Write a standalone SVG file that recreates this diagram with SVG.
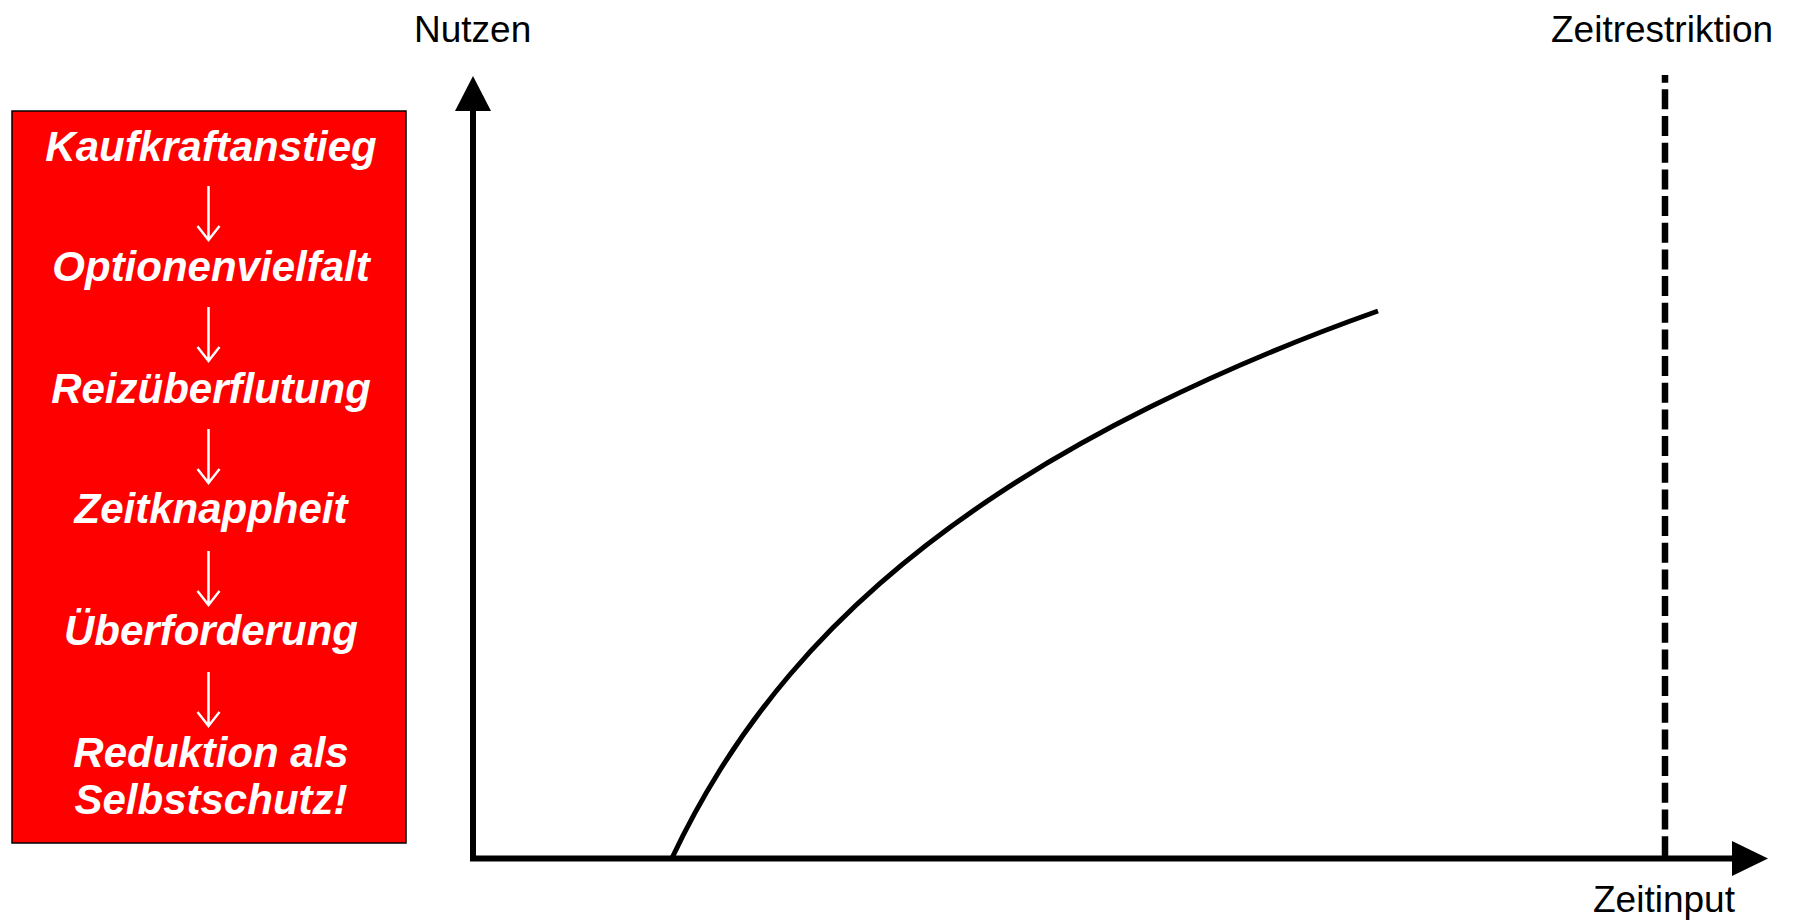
<svg xmlns="http://www.w3.org/2000/svg" width="1794" height="922" viewBox="0 0 1794 922">
<style>
.box{fill:#ff0000;stroke:#000;stroke-width:1.5}
.bt{font-family:"Liberation Sans",Arial,sans-serif;font-weight:bold;font-style:italic;font-size:42px;fill:#fff;text-anchor:middle}
.lbl{font-family:"Liberation Sans",Arial,sans-serif;font-size:37px;fill:#000}
.warr{stroke:#fff;stroke-width:2.5;fill:none}
.axis{stroke:#000;stroke-width:6;fill:none}
</style>
<defs>
<g id="down">
<path class="warr" d="M208.5 0 V54 M197.5 40 L208.5 54 L219.5 40"/>
</g>
</defs>
<rect width="1794" height="922" fill="#fff"/>
<g id="box">
<rect class="box" x="12" y="111" width="394" height="732"/>
<text class="bt" x="211" y="161">Kaufkraftanstieg</text>
<text class="bt" x="211" y="281">Optionenvielfalt</text>
<text class="bt" x="211" y="403">Reizüberflutung</text>
<text class="bt" x="211" y="523">Zeitknappheit</text>
<text class="bt" x="211" y="645">Überforderung</text>
<text class="bt" x="211" y="767">Reduktion als</text>
<text class="bt" x="211" y="814">Selbstschutz!</text>
<use href="#down" y="186"/>
<use href="#down" y="307"/>
<use href="#down" y="429"/>
<use href="#down" y="551"/>
<use href="#down" y="672"/>
</g>
<g id="axes">
<path class="axis" d="M473 111 V861.5 M470 858.5 H1734"/>
<polygon points="473,76 455,111 491,111" fill="#000"/>
<polygon points="1768,858.5 1732,841 1732,876" fill="#000"/>
<path d="M1665 75 V858" stroke="#000" stroke-width="6.5" stroke-dasharray="20 6.67" stroke-dashoffset="12.3" fill="none"/>
</g>
<g id="curve">
<path d="M672 858 C688 824.1 704 795.6 720 770 C743.3 732.8 766.7 701.9 790 674.5 C820 639.2 850 609.7 880 583.4 C920 548.3 960 518.9 1000 492.6 C1050 459.8 1100 432 1150 407.1 C1226 369.2 1302 337.9 1378 311" stroke="#000" stroke-width="5" fill="none"/>
</g>
<g id="labels">
<text class="lbl" x="414" y="42">Nutzen</text>
<text class="lbl" x="1551" y="42">Zeitrestriktion</text>
<text class="lbl" x="1593" y="912">Zeitinput</text>
</g>
</svg>
